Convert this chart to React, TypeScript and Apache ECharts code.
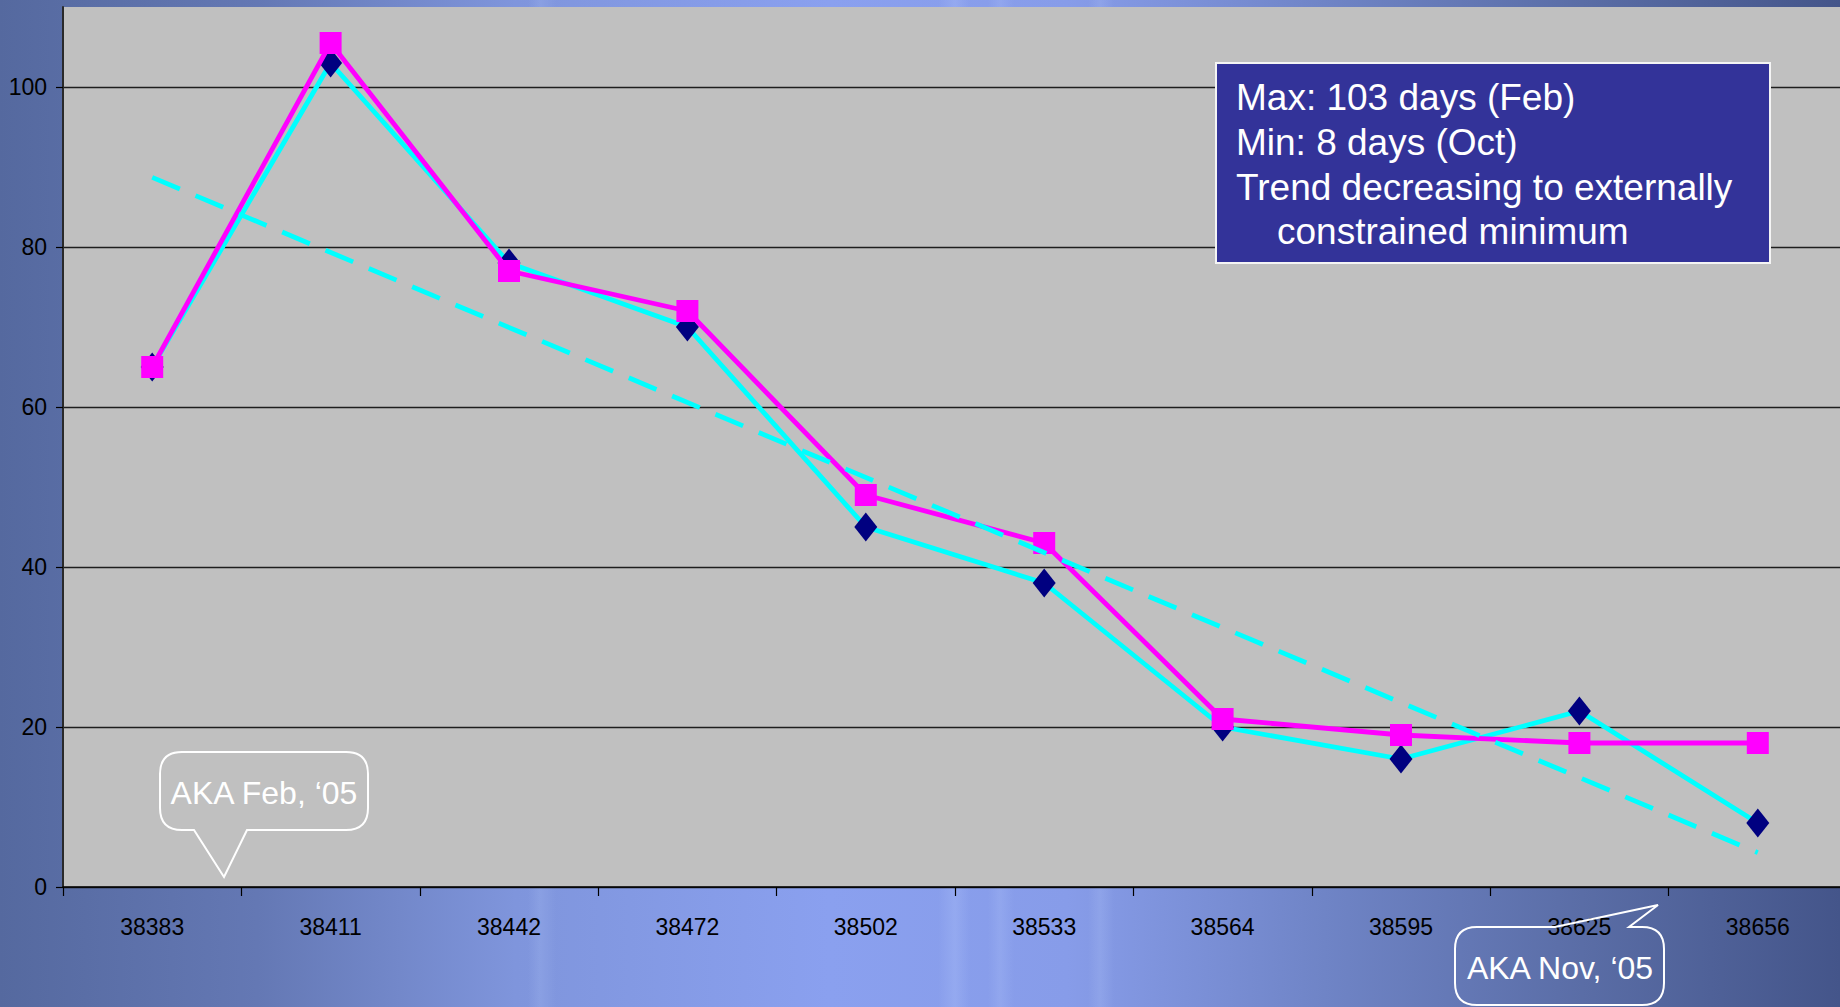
import React, { useEffect, useRef } from "react";
import * as echarts from "echarts";

const categories = ["38383", "38411", "38442", "38472", "38502", "38533", "38564", "38595", "38625", "38656"];
const seriesDiamond = [65, 103, 78, 70, 45, 38, 20, 16, 22, 8];
const seriesSquare = [65, 105.5, 77, 72, 49, 43, 21, 19, 18, 18];
const trendLine = [88.7, null, null, null, null, null, null, null, null, 4.3];
const yTicks = [0, 20, 40, 60, 80, 100];
const noteLines = ["Max: 103 days (Feb)", "Min: 8 days (Oct)", "Trend decreasing to externally", "constrained minimum"];
const calloutFebText = "AKA Feb, \u201805";
const calloutNovText = "AKA Nov, \u201805";

const FEB_PATH =
  "M 182 752 H 346 Q 368 752 368 774 V 808 Q 368 830 346 830 H 247 L 224 877 L 194 830 H 182 Q 160 830 160 808 V 774 Q 160 752 182 752 Z";
const NOV_PATH =
  "M 1477 927 H 1555 L 1658 905 L 1629 927 H 1642 Q 1664 927 1664 949 V 983 Q 1664 1005 1642 1005 H 1477 Q 1455 1005 1455 983 V 949 Q 1455 927 1477 927 Z";

let registered = false;
function registerShapes() {
  if (registered) return;
  echarts.graphic.registerShape("calloutFeb", echarts.graphic.extendPath(FEB_PATH, {}));
  echarts.graphic.registerShape("calloutNov", echarts.graphic.extendPath(NOV_PATH, {}));
  registered = true;
}

const SANS = "'Liberation Sans', Arial, Helvetica, sans-serif";

export default function App() {
  const ref = useRef<HTMLDivElement>(null);

  useEffect(() => {
    document.body.style.margin = "0";
    registerShapes();
    const chart = echarts.init(ref.current!, undefined, { renderer: "svg" });

    const noteY = [97, 142, 187, 231];
    const noteX = [1236, 1236, 1236, 1277];

    const option: any = {
      animation: false,
      backgroundColor: "transparent",
      grid: {
        left: 63,
        right: -7,
        top: 7,
        bottom: 120,
        show: true,
        backgroundColor: "#C0C0C0",
        borderWidth: 0,
        containLabel: false,
        outerBoundsMode: "none",
      },
      xAxis: {
        type: "category",
        data: categories,
        boundaryGap: true,
        axisLine: { show: true, lineStyle: { color: "#000000", width: 1.5 } },
        axisTick: { show: true, length: 9, inside: false, lineStyle: { color: "#000000", width: 1.2 } },
        axisLabel: { color: "#000000", fontSize: 23, fontFamily: SANS, margin: 28 },
        splitLine: { show: false },
      },
      yAxis: {
        type: "value",
        min: 0,
        max: 110,
        interval: 20,
        axisLine: { show: true, lineStyle: { color: "#2a2a2a", width: 2 } },
        axisTick: { show: true, length: 7, customValues: yTicks, lineStyle: { color: "#000000", width: 1.2 } },
        axisLabel: { color: "#000000", fontSize: 23, fontFamily: SANS, margin: 16, customValues: yTicks },
        splitLine: { show: true, lineStyle: { color: "#1e1e1e", width: 1.3 } },
      },
      series: [
        {
          type: "line",
          data: seriesDiamond,
          symbol: "diamond",
          symbolSize: [23, 29],
          itemStyle: { color: "#000080" },
          lineStyle: { color: "#00FFFF", width: 4.8 },
          z: 2,
        },
        {
          type: "line",
          data: seriesSquare,
          symbol: "rect",
          symbolSize: 22,
          itemStyle: { color: "#FF00FF" },
          lineStyle: { color: "#FF00FF", width: 4.8 },
          z: 3,
        },
        {
          type: "line",
          data: trendLine,
          connectNulls: true,
          symbol: "none",
          showSymbol: false,
          lineStyle: { color: "#00FFFF", width: 4.8, type: [30, 17] },
          z: 4,
        },
      ],
      graphic: [
        {
          type: "rect",
          z: 100,
          shape: { x: 1216, y: 63, width: 554, height: 200 },
          style: { fill: "#333399", stroke: "#F4F4F4", lineWidth: 2 },
        },
        ...noteLines.map((t, i) => ({
          type: "text",
          z: 101,
          x: noteX[i],
          y: noteY[i],
          style: {
            text: t,
            fill: "#FFFFFF",
            fontSize: 37,
            fontFamily: SANS,
            align: "left",
            verticalAlign: "middle",
          },
        })),
        {
          type: "calloutFeb",
          z: 100,
          x: 0,
          y: 0,
          style: { fill: "none", stroke: "#FFFFFF", lineWidth: 2 },
        },
        {
          type: "text",
          z: 101,
          x: 264,
          y: 793,
          style: {
            text: calloutFebText,
            fill: "#FFFFFF",
            fontSize: 32,
            fontFamily: SANS,
            align: "center",
            verticalAlign: "middle",
          },
        },
        {
          type: "calloutNov",
          z: 100,
          x: 0,
          y: 0,
          style: { fill: "none", stroke: "#FFFFFF", lineWidth: 2 },
        },
        {
          type: "text",
          z: 101,
          x: 1560,
          y: 968,
          style: {
            text: calloutNovText,
            fill: "#FFFFFF",
            fontSize: 32,
            fontFamily: SANS,
            align: "center",
            verticalAlign: "middle",
          },
        },
      ],
    };

    chart.setOption(option);
    return () => chart.dispose();
  }, []);

  const bg = [
    "linear-gradient(90deg, rgba(255,255,255,0) 0px, rgba(255,255,255,0) 528px, rgba(190,210,255,0.16) 540px, rgba(255,255,255,0) 556px, rgba(255,255,255,0) 938px, rgba(190,210,255,0.22) 955px, rgba(255,255,255,0) 970px, rgba(255,255,255,0) 988px, rgba(190,210,255,0.18) 1000px, rgba(255,255,255,0) 1014px, rgba(255,255,255,0) 1088px, rgba(190,210,255,0.18) 1100px, rgba(255,255,255,0) 1114px)",
    "linear-gradient(90deg, #55699f 0%, #6478b4 14%, #7f95dc 28%, #8aa0ef 45%, #879ce9 58%, #6f84c6 72%, #5a6da6 86%, #44558a 100%)",
  ].join(", ");

  return (
    <div
      ref={ref}
      style={{
        position: "fixed",
        left: 0,
        top: 0,
        width: 1840,
        height: 1007,
        background: bg,
      }}
    />
  );
}
